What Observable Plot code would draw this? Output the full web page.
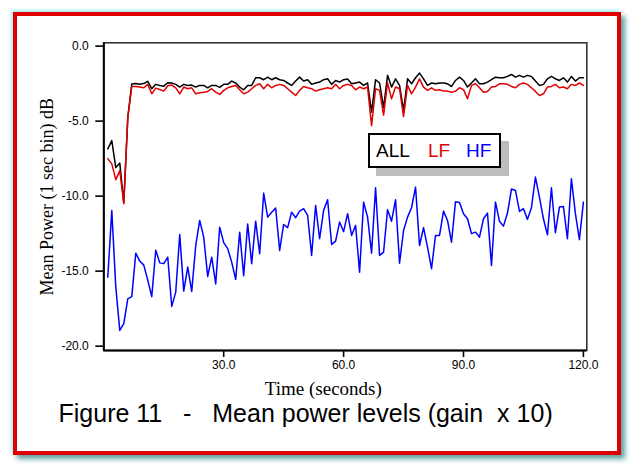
<!DOCTYPE html>
<html>
<head>
<meta charset="utf-8">
<script src="https://cdn.jsdelivr.net/npm/d3@7"></script>
<script src="https://cdn.jsdelivr.net/npm/@observablehq/plot@0.6"></script>
<style>
  html, body { margin: 0; padding: 0; background: #ffffff; }
  body { width: 632px; height: 469px; position: relative; overflow: hidden; }
  #frame {
    position: absolute; left: 13px; top: 12px; width: 600px; height: 435px;
    border: 4px solid #e00000; background: #ffffff;
    box-shadow: 4px 4px 5px rgba(40,130,130,0.75), -2px -2px 3px rgba(150,235,240,0.8);
  }
  #chart { position: absolute; left: 0; top: 0; }
  #legend {
    position: absolute; left: 368px; top: 133px; width: 129px; height: 31px;
    border: 2px solid #000; background: #fff; box-shadow: 8px 8px 0 #bdbdbd;
    font-family: "Liberation Sans", Arial, sans-serif; font-size: 19px;
    white-space: pre;
  }
  #legend span { position: absolute; top: 5px; }
</style>
</head>
<body>
<div id="frame"></div>
<div id="chart"></div>
<div id="legend"><span style="left:6px;color:#000">ALL</span><span style="left:58px;color:#e00000">LF</span><span style="left:96px;color:#0000ff">HF</span></div>
<script>
// Time in seconds (one sample per second)
const times = [1,2,3,4,5,6,7,8,9,10,11,12,13,14,15,16,17,18,19,20,21,22,23,24,25,26,27,28,29,30,
  31,32,33,34,35,36,37,38,39,40,41,42,43,44,45,46,47,48,49,50,51,52,53,54,55,56,57,58,59,60,
  61,62,63,64,65,66,67,68,69,70,71,72,73,74,75,76,77,78,79,80,81,82,83,84,85,86,87,88,89,90,
  91,92,93,94,95,96,97,98,99,100,101,102,103,104,105,106,107,108,109,110,111,112,113,114,115,116,117,118,119,120];

const ALL = [-6.85,-6.3,-8.1,-7.8,-10.45,-4.75,-2.52,-2.5,-2.55,-2.5,
  -2.35,-2.84,-2.55,-2.62,-2.67,-2.44,-2.46,-2.55,-2.73,-2.55,
  -2.62,-2.6,-2.73,-2.62,-2.62,-2.78,-2.62,-2.62,-2.75,-2.55,
  -2.55,-2.33,-2.46,-2.73,-2.91,-2.62,-2.62,-2.11,-2.11,-2.24,
  -2.07,-2.24,-2.11,-2.24,-2.29,-2.46,-2.62,-2.33,-2.07,-2.33,
  -2.24,-2.55,-2.46,-2.4,-2.24,-2.18,-2.55,-2.29,-2.4,-2.24,
  -2.2,-2.51,-2.46,-2.4,-2.62,-2.46,-4.4,-2.24,-2.46,-4.1,
  -1.95,-2.73,-2.18,-2.62,-4.3,-2.18,-2.51,-2.11,-1.8,-2.18,
  -2.62,-2.46,-2.51,-2.46,-2.46,-2.51,-2.69,-2.29,-2.07,-2.29,
  -2.73,-2.46,-2.18,-2.51,-2.51,-2.4,-2.24,-2.07,-2.11,-2.11,
  -2.02,-1.89,-2.07,-1.95,-2.07,-1.95,-2.02,-2.33,-2.62,-2.55,
  -2.18,-2.02,-2.18,-2.29,-2.11,-2.4,-2.02,-2.33,-2.11,-2.11];

const LF = [-7.5,-7.85,-8.9,-8.3,-10.5,-4.8,-2.7,-2.69,-2.73,-2.78,
  -2.55,-3.18,-2.8,-2.89,-3.0,-2.64,-2.6,-2.78,-3.18,-2.73,
  -2.84,-2.78,-3.18,-3.11,-3.07,-3.02,-2.84,-3.07,-3.22,-2.95,
  -2.78,-2.69,-2.62,-2.91,-3.18,-3.07,-2.84,-2.62,-2.51,-2.84,
  -2.55,-2.78,-2.62,-2.55,-2.62,-2.84,-3.07,-3.29,-2.95,-2.69,
  -2.78,-2.84,-3.0,-2.91,-2.84,-2.78,-2.84,-2.55,-2.84,-2.62,
  -2.55,-2.62,-2.91,-2.73,-2.84,-2.73,-5.3,-2.84,-2.95,-4.6,
  -2.46,-3.51,-2.73,-2.84,-4.7,-2.62,-3.18,-2.73,-2.18,-2.73,
  -2.95,-2.78,-2.95,-2.91,-3.0,-3.0,-3.07,-3.0,-2.78,-2.9,
  -3.51,-2.62,-2.51,-2.78,-3.07,-3.02,-2.73,-2.69,-2.51,-2.51,
  -2.55,-2.69,-2.78,-2.55,-2.46,-2.55,-2.78,-3.02,-3.29,-3.18,
  -2.73,-2.69,-2.55,-2.78,-2.73,-2.84,-2.55,-2.62,-2.46,-2.62];

const HF = [-15.4,-10.95,-16.07,-18.95,-18.5,-16.85,-16.7,-13.8,-14.33,-14.6,
  -15.6,-16.7,-13.6,-14.45,-14.5,-14.07,-17.35,-16.4,-12.55,-16.33,
  -14.73,-16.35,-13.29,-11.62,-12.73,-15.35,-14.07,-15.85,-12.07,-13.1,
  -13.5,-14.4,-15.55,-12.4,-15.3,-11.85,-14.5,-11.67,-13.84,-9.8,
  -11.4,-11.07,-10.8,-13.62,-11.89,-12.1,-11.07,-11.44,-11.0,-10.84,
  -11.29,-13.95,-10.62,-12.84,-10.95,-10.24,-13.22,-13.0,-11.73,-12.37,
  -11.17,-12.62,-11.95,-15.07,-10.4,-11.4,-13.8,-9.44,-13.95,-13.73,
  -10.9,-11.67,-10.24,-14.47,-12.29,-11.4,-10.77,-9.4,-13.29,-12.1,
  -13.4,-14.84,-12.62,-12.62,-11.0,-11.62,-13.07,-10.37,-10.42,-11.17,
  -11.51,-12.5,-12.4,-12.73,-11.51,-11.13,-14.62,-10.4,-11.67,-12.0,
  -11.13,-9.53,-9.62,-11.02,-10.84,-11.55,-10.77,-8.73,-10.07,-11.51,
  -12.58,-9.44,-12.44,-10.73,-10.69,-12.84,-8.84,-11.17,-12.9,-10.4];

const xTicks = [30, 60, 90, 120];
const yTicks = [0, -5, -10, -15, -20];
const xDomain = [0, 120.85];
const yDomain = [-20.29, 0.22];
const yLabel = "Mean Power (1 sec bin) dB";
const xLabel = "Time (seconds)";
const caption = "Figure 11   -   Mean power levels (gain  x 10)";

const rows = (vals, series) => times.map((t, i) => ({t, v: vals[i], series}));
const data = [...rows(ALL, "ALL"), ...rows(LF, "LF"), ...rows(HF, "HF")];

const sans = "'Liberation Sans', Arial, Helvetica, sans-serif";
const serif = "'Liberation Serif', 'Times New Roman', serif";
const fmt = d => d.toFixed(1);

const chart = Plot.plot({
  width: 632,
  height: 469,
  marginLeft: 103.3,
  marginRight: 45.7,
  marginTop: 42.3,
  marginBottom: 119,
  style: {background: "transparent", overflow: "visible"},
  x: {domain: xDomain},
  y: {domain: yDomain},
  color: {domain: ["ALL", "LF", "HF"], range: ["#000000", "#e00000", "#0000ff"]},
  marks: [
    Plot.frame({stroke: "#333", strokeWidth: 1.6}),
    Plot.line(data, {x: "t", y: "v", z: "series", stroke: "series", strokeWidth: 1.5}),
    Plot.ruleX([xDomain[0]], {stroke: "#000", strokeWidth: 2}),
    Plot.ruleY([yDomain[0]], {stroke: "#000", strokeWidth: 2}),
    Plot.axisY(yTicks, {tickFormat: fmt, tickSize: 8, tickPadding: 7, fontSize: 12,
      fontFamily: sans, stroke: "#000", strokeWidth: 1.6, label: null, fill: "#000"}),
    Plot.axisX(xTicks, {tickFormat: fmt, tickSize: 7, tickPadding: 3, fontSize: 12,
      fontFamily: sans, stroke: "#000", strokeWidth: 1.6, label: null, fill: "#000"}),
    Plot.text([yLabel], {frameAnchor: "left", rotate: -90, dx: -57, fontSize: 18,
      fontFamily: serif, fill: "#000", textAnchor: "middle", lineAnchor: "middle"}),
    Plot.text([xLabel], {frameAnchor: "bottom", dx: -22, dy: 38, fontSize: 19,
      fontFamily: serif, fill: "#000", textAnchor: "middle", lineAnchor: "middle"}),
    Plot.text([caption], {frameAnchor: "bottom-left", dx: -45.3, dy: 63, fontSize: 25,
      fontFamily: sans, fill: "#000", textAnchor: "start", lineAnchor: "middle"})
  ]
});
chart.querySelectorAll("text").forEach(t => t.setAttribute("xml:space", "preserve"));
chart.querySelectorAll("text").forEach(t => t.style.whiteSpace = "pre");
document.getElementById("chart").appendChild(chart);
</script>
</body>
</html>
